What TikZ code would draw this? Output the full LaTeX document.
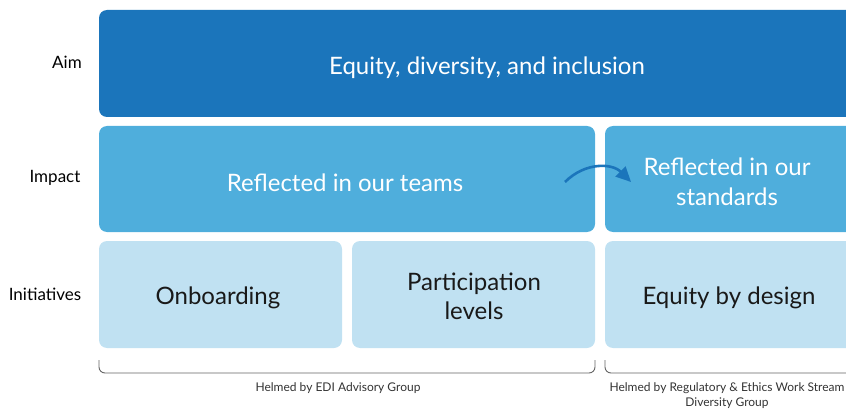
\documentclass[tikz,border=0pt]{standalone}
\usepackage{fontspec}
\setmainfont{Lato}
\usetikzlibrary{arrows.meta}
\definecolor{aimblue}{RGB}{27,117,187}
\definecolor{impblue}{RGB}{79,174,220}
\definecolor{iniblue}{RGB}{192,225,242}
\definecolor{bracegray}{RGB}{100,100,100}
\begin{document}
\begin{tikzpicture}[x=1pt,y=-1pt,
  box/.style={rounded corners=8pt},
  rowlabel/.style={font=\fontsize{17}{20}\selectfont, text=black, anchor=center},
  bigw/.style={font=\fontsize{24}{30}\selectfont, text=white, align=center},
  bigk/.style={font=\fontsize{24}{29}\selectfont, text=black!90, align=center},
  note/.style={font=\fontsize{12}{15}\selectfont, text=black!80, align=center},
  brace/.style={draw=bracegray, line width=0.9pt, rounded corners=6pt}]
\useasboundingbox (0,0) rectangle (846,409);
\clip (0,0) rectangle (846,409);
\fill[aimblue, box] (99,10) rectangle (866,117);
\fill[impblue, box] (99,126) rectangle (595,232);
\fill[impblue, box] (605,126) rectangle (866,232);
\fill[iniblue, box] (99,241) rectangle (342,348);
\fill[iniblue, box] (352,241) rectangle (595,348);
\fill[iniblue, box] (605,241) rectangle (866,348);
\node[rowlabel] (laim) at (67,62) {Aim};
\node[rowlabel] (limp) at (55,178) {Impact};
\node[rowlabel] (lini) at (45,294) {Initiatives};
\node[bigw] (aim) at (487,68) {Equity, diversity, and inclusion};
\node[bigw] (teams) at (345,183) {Reflected in our teams};
\node[bigw] (stds) at (727,182) {Reflected in our\\standards};
\node[bigk] (onb) at (218,298) {Onboarding};
\node[bigk] (part) at (474,296) {Participation\\levels};
\node[bigk] (edd) at (729,298) {Equity by design};
\coordinate (as) at (565,182);
\coordinate (ae) at (631,182);
\draw[aimblue, line width=2.6pt, -{Triangle[length=15pt,width=14pt]}] (as) .. controls (585,162) and (612,163) .. (ae);
\draw[brace] (99,360) -- (99,373) -- (595,373) -- (595,360);
\draw[brace] (605,360) -- (605,373) -- (860,373) -- (860,360);
\node[note] (n1) at (338,388) {Helmed by EDI Advisory Group};
\node[note] (n2) at (727,396) {Helmed by Regulatory \& Ethics Work Stream\\Diversity Group};
\end{tikzpicture}
\end{document}
